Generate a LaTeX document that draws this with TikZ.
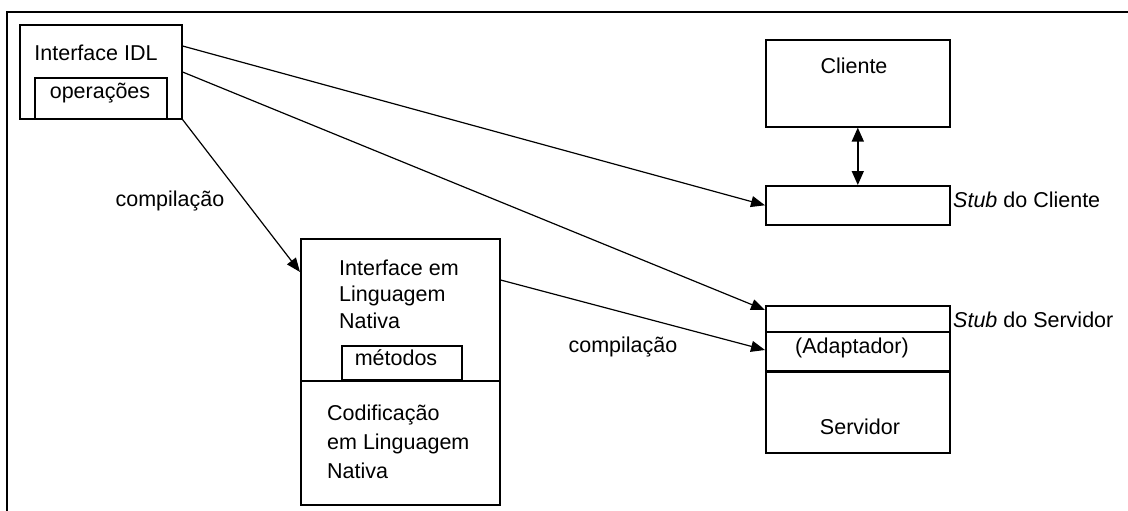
\documentclass[tikz,border=0pt]{standalone}
\usepackage{fontspec}
\setmainfont{Liberation Sans}
\usetikzlibrary{arrows.meta,calc}
\begin{document}
\begin{tikzpicture}[x=1pt,y=-1pt,
  box/.style={draw,line width=1.6pt,inner sep=0pt,anchor=north west},
  lbl/.style={inner sep=0pt,font=\fontsize{21.5}{26.5}\selectfont},
  conn/.style={line width=1.2pt,-{Triangle[length=14pt,width=11pt]}},
  dconn/.style={line width=1.6pt,{Triangle[length=14pt,width=12pt]}-{Triangle[length=14pt,width=12pt]}}]
\useasboundingbox (0,0) rectangle (1128,511);
% outer frame
\draw[line width=2pt] (7,520) -- (7,12) -- (1140,12);
% boxes
\node[box,minimum width=162pt,minimum height=94pt] (idl) at (19,24) {};
\node[box,minimum width=132pt,minimum height=41pt] (ops) at (34,77) {};
\node[box,minimum width=199pt,minimum height=266pt] (nat) at (300,238) {};
\node[box,minimum width=120pt,minimum height=34pt] (met) at (341,345) {};
\draw[line width=1.8pt] (nat.west |- met.south) -- (nat.east |- met.south);
\node[box,minimum width=184pt,minimum height=87pt] (cli) at (765,39) {};
\node[box,minimum width=184pt,minimum height=39pt] (cstub) at (765,185) {};
\node[box,minimum width=184pt,minimum height=147pt] (srv) at (765,305) {};
\draw[line width=1.6pt] ([yshift=-27pt]srv.north west) -- ([yshift=-27pt]srv.north east);
\draw[line width=3pt] ([yshift=-66pt]srv.north west) -- ([yshift=-66pt]srv.north east);
% texts
\node[lbl] (tidl) at (96,53) {Interface IDL};
\node[lbl] (tops) at (100,93) {operações};
\node[lbl,align=left,anchor=west] (tnat) at (339,294) {Interface em\\Linguagem\\Nativa};
\node[lbl] (tmet) at (396,358) {métodos};
\node[lbl,align=left,anchor=west,font=\fontsize{21.5}{29}\selectfont] (tcod) at (327,442) {Codificação\\em Linguagem\\Nativa};
\node[lbl] (tcli) at (854,66) {Cliente};
\node[lbl,anchor=west] (tcs) at (953,200) {\textit{Stub} do Cliente};
\node[lbl,anchor=west] (tss) at (953,320) {\textit{Stub} do Servidor};
\node[lbl] (tad) at (852,348) {(Adaptador)};
\node[lbl] (tsrv) at (860,427) {Servidor};
\node[lbl] (tc1) at (170,201) {compilação};
\node[lbl] (tc2) at (623,347) {compilação};
% connectors
\draw[conn] ([yshift=-22pt]idl.north east) -- (cstub.west);
\draw[conn] ([yshift=-48pt]idl.north east) -- ([yshift=-5pt]srv.north west);
\draw[conn] ([yshift=-42pt]nat.north east) -- ([yshift=-45pt]srv.north west);
\draw[conn] (idl.south east) -- ([yshift=-34pt]nat.north west);
\draw[dconn] (cli.south) -- (cstub.north);
\end{tikzpicture}
\end{document}
